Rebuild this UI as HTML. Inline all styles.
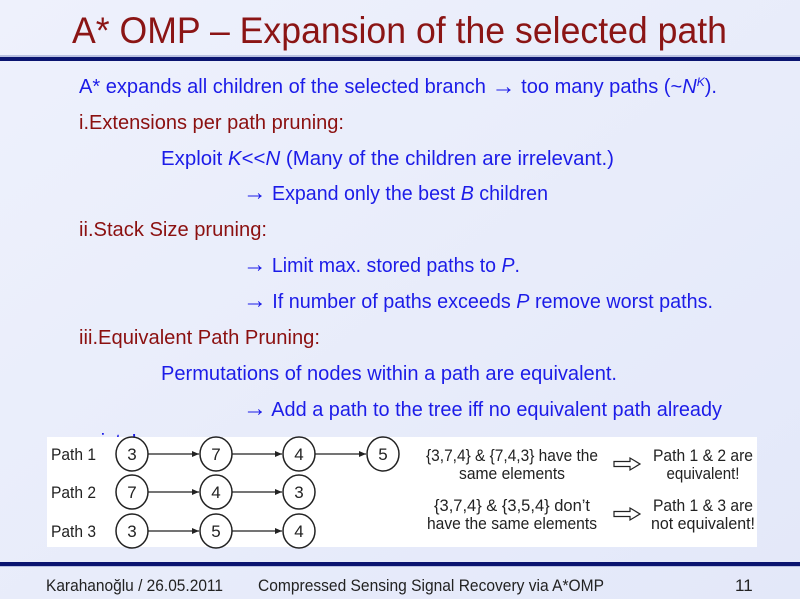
<!DOCTYPE html>
<html><head><meta charset="utf-8"><style>
html,body{margin:0;padding:0;}
body{width:800px;height:599px;overflow:hidden;background:linear-gradient(135deg,#eef1fb,#e4e9fa);}
svg{display:block}
</style></head><body>
<svg width="800" height="599" viewBox="0 0 800 599" xmlns="http://www.w3.org/2000/svg" font-family="Liberation Sans, Arial, sans-serif">
<defs>
<linearGradient id="bg" x1="0" y1="0" x2="1" y2="1"><stop offset="0" stop-color="#eef1fc"/><stop offset="1" stop-color="#e3e8f9"/></linearGradient>
<marker id="ah" markerWidth="8" markerHeight="8" refX="7" refY="4" orient="auto" markerUnits="userSpaceOnUse"><path d="M0,1 L7,4 L0,7 z" fill="#222"/></marker>
</defs>
<rect width="800" height="599" fill="url(#bg)"/>
<text x="72" y="43" font-size="37" fill="#8b1515" textLength="655" lengthAdjust="spacingAndGlyphs">A* OMP – Expansion of the selected path</text>
<rect x="0" y="55" width="800" height="2" fill="#b8c0e0"/>
<rect x="0" y="57" width="800" height="4" fill="#0a1470"/>

<g font-size="20" fill="#1c1ce8">
<text x="79" y="93" textLength="638" lengthAdjust="spacingAndGlyphs">A* expands all children of the selected branch <tspan font-weight="bold" font-size="24" dy="1">→</tspan><tspan dy="-1"> too many paths (~</tspan><tspan font-style="italic">N</tspan><tspan font-style="italic" font-size="12" dy="-7">K</tspan><tspan dy="7">).</tspan></text>
<text x="79" y="129" fill="#8b1010" textLength="265" lengthAdjust="spacingAndGlyphs">i.Extensions per path pruning:</text>
<text x="161" y="165" textLength="453" lengthAdjust="spacingAndGlyphs">Exploit <tspan font-style="italic">K</tspan>&lt;&lt;<tspan font-style="italic">N</tspan>  (Many of the children are irrelevant.)</text>
<text x="243" y="200" textLength="305" lengthAdjust="spacingAndGlyphs"><tspan font-weight="bold" font-size="24">→</tspan> Expand only the best <tspan font-style="italic">B</tspan> children</text>
<text x="79" y="236" fill="#8b1010" textLength="188" lengthAdjust="spacingAndGlyphs">ii.Stack Size pruning:</text>
<text x="243" y="272" textLength="277" lengthAdjust="spacingAndGlyphs"><tspan font-weight="bold" font-size="24">→</tspan> Limit max. stored paths to <tspan font-style="italic">P</tspan>.</text>
<text x="243" y="308" textLength="470" lengthAdjust="spacingAndGlyphs"><tspan font-weight="bold" font-size="24">→</tspan> If number of paths exceeds <tspan font-style="italic">P</tspan> remove worst paths.</text>
<text x="79" y="344" fill="#8b1010" textLength="241" lengthAdjust="spacingAndGlyphs">iii.Equivalent Path Pruning:</text>
<text x="161" y="380" textLength="456" lengthAdjust="spacingAndGlyphs">Permutations of nodes within a path are equivalent.</text>
<text x="243" y="416" textLength="479" lengthAdjust="spacingAndGlyphs"><tspan font-weight="bold" font-size="24">→</tspan> Add a path to the tree iff no equivalent path already</text>
<text x="79" y="448" textLength="58" lengthAdjust="spacingAndGlyphs">exists!</text>
</g>

<rect x="47" y="437" width="710" height="110" fill="#fff"/>
<g font-size="17" fill="#222">
<text x="51" y="460" textLength="45" lengthAdjust="spacingAndGlyphs">Path 1</text>
<text x="51" y="498" textLength="45" lengthAdjust="spacingAndGlyphs">Path 2</text>
<text x="51" y="537" textLength="45" lengthAdjust="spacingAndGlyphs">Path 3</text>
</g>
<g stroke="#222" stroke-width="1.3">
<line x1="148" y1="454" x2="199" y2="454" marker-end="url(#ah)"/>
<line x1="232" y1="454" x2="282" y2="454" marker-end="url(#ah)"/>
<line x1="315" y1="454" x2="366" y2="454" marker-end="url(#ah)"/>
<line x1="148" y1="492" x2="199" y2="492" marker-end="url(#ah)"/>
<line x1="232" y1="492" x2="282" y2="492" marker-end="url(#ah)"/>
<line x1="148" y1="531" x2="199" y2="531" marker-end="url(#ah)"/>
<line x1="232" y1="531" x2="282" y2="531" marker-end="url(#ah)"/>
</g>
<g fill="#fff" stroke="#222" stroke-width="1.5">
<ellipse cx="132" cy="454" rx="16" ry="17"/><ellipse cx="216" cy="454" rx="16" ry="17"/><ellipse cx="299" cy="454" rx="16" ry="17"/><ellipse cx="383" cy="454" rx="16" ry="17"/>
<ellipse cx="132" cy="492" rx="16" ry="17"/><ellipse cx="216" cy="492" rx="16" ry="17"/><ellipse cx="299" cy="492" rx="16" ry="17"/>
<ellipse cx="132" cy="531" rx="16" ry="17"/><ellipse cx="216" cy="531" rx="16" ry="17"/><ellipse cx="299" cy="531" rx="16" ry="17"/>
</g>
<g font-size="17" fill="#222" text-anchor="middle">
<text x="132" y="460">3</text><text x="216" y="460">7</text><text x="299" y="460">4</text><text x="383" y="460">5</text>
<text x="132" y="498">7</text><text x="216" y="498">4</text><text x="299" y="498">3</text>
<text x="132" y="537">3</text><text x="216" y="537">5</text><text x="299" y="537">4</text>
<text x="512" y="461" textLength="172" lengthAdjust="spacingAndGlyphs">{3,7,4} &amp; {7,4,3} have the</text>
<text x="512" y="479" textLength="106" lengthAdjust="spacingAndGlyphs">same elements</text>
<text x="512" y="511" textLength="156" lengthAdjust="spacingAndGlyphs">{3,7,4} &amp; {3,5,4} don’t</text>
<text x="512" y="529" textLength="170" lengthAdjust="spacingAndGlyphs">have the same elements</text>
<text x="703" y="461" textLength="100" lengthAdjust="spacingAndGlyphs">Path 1 &amp; 2 are</text>
<text x="703" y="479" textLength="73" lengthAdjust="spacingAndGlyphs">equivalent!</text>
<text x="703" y="511" textLength="100" lengthAdjust="spacingAndGlyphs">Path 1 &amp; 3 are</text>
<text x="703" y="529" textLength="104" lengthAdjust="spacingAndGlyphs">not equivalent!</text>
</g>
<g fill="none" stroke="#222" stroke-width="1.2">
<path d="M614,461.5 H630 V458 L640,464 L630,470 V466.5 H614 Z"/>
<path d="M614,511.5 H630 V508 L640,514 L630,520 V516.5 H614 Z"/>
</g>

<rect x="0" y="562" width="800" height="4" fill="#0a1470"/>
<rect x="0" y="566" width="800" height="1" fill="#b8c0e0"/>
<g font-size="17" fill="#222">
<text x="46" y="591" textLength="177" lengthAdjust="spacingAndGlyphs">Karahanoğlu / 26.05.2011</text>
<text x="258" y="591" textLength="346" lengthAdjust="spacingAndGlyphs">Compressed Sensing Signal Recovery via A*OMP</text>
<text x="735" y="591">11</text>
</g>
</svg>
</body></html>
